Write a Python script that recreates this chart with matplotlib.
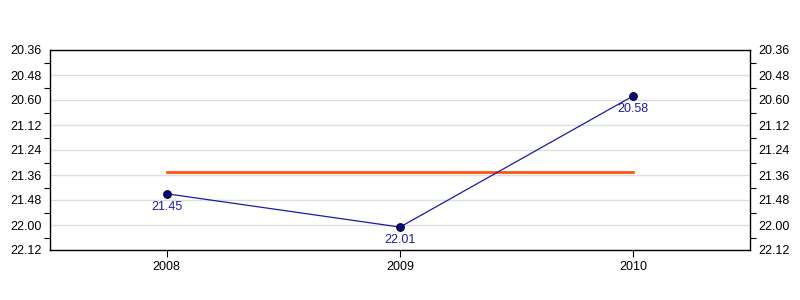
import matplotlib
matplotlib.use("Agg")
import matplotlib.pyplot as plt
from matplotlib.ticker import FixedLocator, MultipleLocator

plt.rcParams['font.family'] = ['Liberation Sans', 'DejaVu Sans']

# times shown as minutes.seconds
years = [2008, 2009, 2010]
times = ["21.45", "22.01", "20.58"]
tick_labels = ["20.36", "20.48", "20.60", "21.12", "21.24", "21.36", "21.48", "22.00", "22.12"]


def to_sec(s):
    m, sec = s.split(".")
    return int(m) * 60 + int(sec)


secs = [to_sec(t) for t in times]
avg = sum(secs) / len(secs)
tick_pos = [to_sec(tick_labels[0]) + 12 * i for i in range(len(tick_labels))]

fig = plt.figure(figsize=(8, 3), dpi=100)
ax = fig.add_axes([50 / 800, 50 / 300, 700 / 800, 200 / 300])

ax.plot([years[0], years[-1]], [avg, avg], color='#ff5511', lw=2, zorder=2)
ax.plot(years, secs, color='#1a1aaa', lw=0.9, zorder=3)
ax.plot(years, secs, 'o', ms=5.5, mfc='#0a0a7a', mec='#000033', mew=0.8, zorder=4)
for x, y, t in zip(years, secs, times):
    ax.annotate(t, (x, y), xytext=(0, -5), textcoords='offset points',
                ha='center', va='top', fontsize=9, color='#1a1aaa', zorder=5)

ax.set_xlim(2007.5, 2010.5)
ax.set_xticks(years)
ax.set_xticklabels([str(y) for y in years], fontsize=9)
ax.set_ylim(tick_pos[-1], tick_pos[0])
ax.yaxis.set_major_locator(FixedLocator(tick_pos))
ax.set_yticklabels(tick_labels, fontsize=9)
ax.yaxis.set_minor_locator(MultipleLocator(6))
ax.tick_params(axis='y', which='both', left=True, right=True, labelleft=True, labelright=True)
ax.tick_params(axis='y', which='major', length=0, pad=6)
ax.tick_params(axis='y', which='minor', length=4, width=0.8)
ax.tick_params(axis='x', length=5, width=0.8, pad=3)
ax.grid(axis='y', which='major', color='#dddddd', lw=1, zorder=0)
ax.set_axisbelow(True)
for sp in ax.spines.values():
    sp.set_linewidth(1)

fig.savefig('out.png', dpi=100)
